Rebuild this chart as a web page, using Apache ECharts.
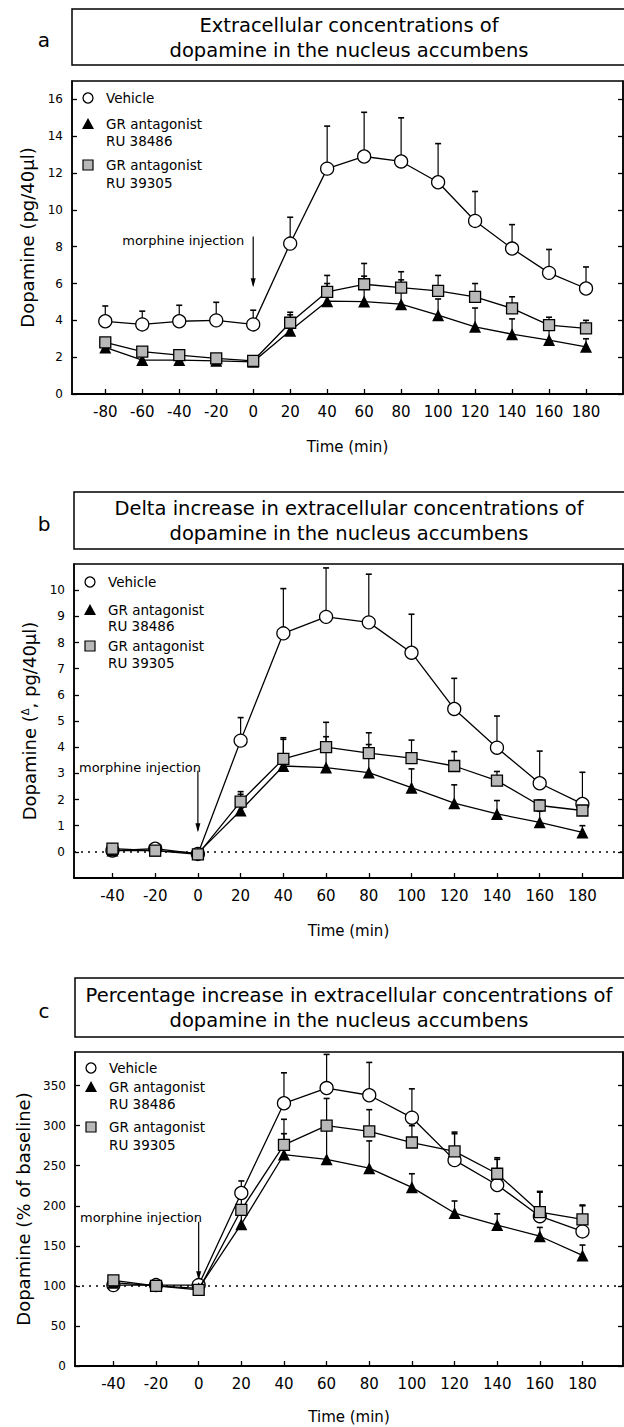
<!DOCTYPE html>
<html><head><meta charset="utf-8">
<script src="https://cdn.jsdelivr.net/npm/echarts@6/dist/echarts.min.js"></script>
<style>html,body{margin:0;padding:0;background:#fff}#c{width:624px;height:1427px}</style>
</head><body><div id="c"></div>
<script>
// ---------- data ----------
const timesA = [-80,-60,-40,-20,0,20,40,60,80,100,120,140,160,180];
const timesBC = [-40,-20,0,20,40,60,80,100,120,140,160,180];
const seriesNames = ['Vehicle', 'GR antagonist RU 38486', 'GR antagonist RU 39305'];

// panel a : Dopamine (pg/40µl)
const aVehicle    = [3.95,3.78,3.95,4.0,3.78,8.17,12.24,12.9,12.63,11.5,9.4,7.9,6.58,5.73];
const aVehicleTop = [4.78,4.5,4.82,4.98,4.55,9.6,14.55,15.3,15.0,13.6,11.0,9.2,7.85,6.9];
const aRU38486    = [2.53,1.84,1.84,1.8,1.75,3.43,5.04,5.02,4.88,4.28,3.65,3.25,2.93,2.56];
const aRU38486Top = [null,null,null,null,null,4.3,6.0,6.4,6.2,5.16,4.67,4.08,3.6,3.0];
const aRU39305    = [2.8,2.3,2.11,1.93,1.8,3.87,5.55,5.96,5.78,5.6,5.28,4.65,3.74,3.56];
const aRU39305Top = [null,2.4,null,null,null,4.44,6.44,7.09,6.64,6.44,6.0,5.28,4.17,4.0];

// panel b : Delta increase
const bVehicle    = [0.05,0.12,-0.08,4.25,8.35,8.98,8.77,7.61,5.46,3.98,2.62,1.83];
const bVehicleTop = [null,null,null,5.13,10.06,10.85,10.61,9.08,6.63,5.19,3.85,3.04];
const bRU38486    = [0.05,0.05,-0.05,1.58,3.28,3.22,3.03,2.45,1.86,1.45,1.13,0.74];
const bRU38486Top = [null,null,null,2.2,4.3,4.4,4.1,3.17,2.56,1.96,1.55,1.0];
const bRU39305    = [0.12,0.05,-0.1,1.92,3.55,4.0,3.77,3.58,3.28,2.72,1.77,1.58];
const bRU39305Top = [null,null,null,2.3,4.36,4.95,4.55,4.27,3.83,3.07,1.98,1.8];

// panel c : Percentage of baseline
const cVehicle    = [101,101,101,216,328,347,338,310,257,226,187,168];
const cVehicleTop = [null,null,null,231,366,389,379,346,290,258,217,200];
const cRU38486    = [104,100,97,177,264,258,247,223,191,176,162,138];
const cRU38486Top = [null,null,null,195,290,297,281,240,206,190,173,151];
const cRU39305    = [107,100,95,195,276,300,293,279,268,240,192,183];
const cRU39305Top = [null,null,null,212,308,334,320,300,292,260,218,201];

// tick labels
const xTicksA = [-80,-60,-40,-20,0,20,40,60,80,100,120,140,160,180];
const xTicksBC = [-40,-20,0,20,40,60,80,100,120,140,160,180];
const yTicksA = [0,2,4,6,8,10,12,14,16];
const yTicksB = [0,1,2,3,4,5,6,7,8,9,10];
const yTicksC = [0,50,100,150,200,250,300,350];

const titlesA = ['Extracellular concentrations of', 'dopamine in the nucleus accumbens'];
const titlesB = ['Delta increase in extracellular concentrations of', 'dopamine in the nucleus accumbens'];
const titlesC = ['Percentage increase in extracellular concentrations of', 'dopamine in the nucleus accumbens'];

// ---------- layout ----------
const FF = 'DejaVu Sans';
const panels = [
  { letter:'a', titles:titlesA, box:{y:9,h:56}, grid:{left:72, top:81, height:313},
    times:timesA, means:[aVehicle,aRU38486,aRU39305], tops:[aVehicleTop,aRU38486Top,aRU39305Top],
    xMin:-98, xMax:200, yMin:0, yMax:17, xTicks:xTicksA, yTicks:yTicksA,
    yName:'Dopamine (pg/40µl)', legendY:[17,43,60,84,102], refLine:null,
    arrow:{from:8.55,to:5.8}, label:{align:'right', y:8.35} },
  { letter:'b', titles:titlesB, box:{y:492,h:57}, grid:{left:74, top:564, height:314},
    times:timesBC, means:[bVehicle,bRU38486,bRU39305], tops:[bVehicleTop,bRU38486Top,bRU39305Top],
    xMin:-58, xMax:199, yMin:-1, yMax:11, xTicks:xTicksBC, yTicks:yTicksB,
    yName:'Dopamine ({d|Δ}, pg/40µl)', legendY:[18,46,62,82,99], refLine:0,
    arrow:{from:3.1,to:0.75}, label:{align:'left', y:3.22} },
  { letter:'c', titles:titlesC, box:{y:978,h:59}, grid:{left:75, top:1052, height:314},
    times:timesBC, means:[cVehicle,cRU38486,cRU39305], tops:[cVehicleTop,cRU38486Top,cRU39305Top],
    xMin:-58, xMax:199, yMin:0, yMax:392, xTicks:xTicksBC, yTicks:yTicksC,
    yName:'Dopamine (% of baseline)', legendY:[16,35,52,75,93], refLine:100,
    arrow:{from:180,to:107}, label:{align:'left', y:186} }
];

const symbols = ['circle','triangle','rect'];
const fills = ['#ffffff','#000000','#b8b8b8'];
const sizes = [13,12,11];

const chart = echarts.init(document.getElementById('c'), null, {renderer:'svg', width:624, height:1427});

const grids = [], xAxes = [], yAxes = [], series = [];
panels.forEach((p, i) => {
  grids.push({left:p.grid.left, right:1, top:p.grid.top, height:p.grid.height,
    show:true, borderColor:'#000', borderWidth:1.5, backgroundColor:'transparent'});
  xAxes.push({type:'value', gridIndex:i, min:p.xMin, max:p.xMax,
    axisLine:{show:true, onZero:false, lineStyle:{color:'#000', width:2}},
    axisTick:{show:true, inside:true, length:5, customValues:p.xTicks, lineStyle:{color:'#000', width:1.3}},
    axisLabel:{customValues:p.xTicks, color:'#000', fontSize:15, fontFamily:FF, margin:10},
    splitLine:{show:false},
    name:'Time (min)', nameLocation:'middle', nameGap: i===2 ? 43 : 45,
    nameTextStyle:{color:'#000', fontSize:15, fontFamily:FF}});
  yAxes.push({type:'value', gridIndex:i, min:p.yMin, max:p.yMax, position:'left',
    axisLine:{show:true, onZero:false, lineStyle:{color:'#000', width:1.5}},
    axisTick:{show:true, inside:true, length:5, customValues:p.yTicks, lineStyle:{color:'#000', width:1.3}},
    axisLabel:{customValues:p.yTicks, color:'#000', fontSize:12, fontFamily:FF, margin:9},
    splitLine:{show:false},
    name:p.yName, nameLocation:'middle', nameGap:34,
    nameTextStyle:{color:'#000', fontSize:18, fontFamily:FF,
      rich:{d:{fontSize:10, fontFamily:FF, color:'#000', padding:[0,0,8,0]}}}});
  yAxes.push({type:'value', gridIndex:i, min:p.yMin, max:p.yMax, position:'right',
    axisLine:{show:true, onZero:false, lineStyle:{color:'#000', width:1.5}},
    axisTick:{show:true, inside:true, length:5, customValues:p.yTicks, lineStyle:{color:'#000', width:1.3}},
    axisLabel:{show:false}, splitLine:{show:false}});

  p.means.forEach((m, g) => {
    const errData = p.times.map((t, k) => [t, m[k], p.tops[g][k] == null ? NaN : p.tops[g][k]]);
    series.push({type:'custom', name:seriesNames[g], xAxisIndex:i, yAxisIndex:2*i, z:1, silent:true,
      data:errData,
      renderItem:(params, api) => {
        const top = api.value(2);
        if (isNaN(top)) return null;
        const a = api.coord([api.value(0), api.value(1)]);
        const b = api.coord([api.value(0), top]);
        return {type:'group', children:[
          {type:'line', shape:{x1:a[0], y1:a[1], x2:b[0], y2:b[1]}, style:{stroke:'#000', lineWidth:1.2}},
          {type:'line', shape:{x1:b[0]-3, y1:b[1], x2:b[0]+3, y2:b[1]}, style:{stroke:'#000', lineWidth:1.6}}
        ]};
      }});
  });
  p.means.forEach((m, g) => {
    const s = {type:'line', name:seriesNames[g], xAxisIndex:i, yAxisIndex:2*i, z:3+g,
      data:p.times.map((t, k) => [t, m[k]]),
      symbol:symbols[g], symbolSize:sizes[g], showSymbol:true,
      lineStyle:{color:'#000', width:1.3},
      itemStyle:{color:fills[g], borderColor:'#000', borderWidth: g===1 ? 0 : 1.3},
      animation:false};
    if (g === 0 && p.refLine !== null) {
      s.markLine = {silent:true, symbol:['none','none'], label:{show:false},
        lineStyle:{type:[2,5], color:'#000', width:1.5}, data:[{yAxis:p.refLine}], animation:false};
    }
    series.push(s);
  });
});

chart.setOption({animation:false, grid:grids, xAxis:xAxes, yAxis:yAxes, series:series});

// ---------- graphics: title boxes, legends, annotations ----------
const gfx = [];
panels.forEach((p, i) => {
  const gl = p.grid.left;
  gfx.push({type:'text', style:{text:p.letter, x:44, y:p.box.y + p.box.h/2 + 3, align:'center', verticalAlign:'middle',
    fontSize:20, fontFamily:FF, fill:'#000'}});
  gfx.push({type:'rect', shape:{x:gl, y:p.box.y, width:624 - gl + 10, height:p.box.h},
    style:{fill:'none', stroke:'#000', lineWidth:1.5}});
  p.titles.forEach((t, k) => {
    gfx.push({type:'text', style:{text:t, x:349, y:p.box.y + p.box.h/2 - 12 + k*25, align:'center', verticalAlign:'middle',
      fontSize:19.5, fontFamily:FF, fill:'#000'}});
  });
  // legend
  const lx = gl + 16, tx = gl + 34, top = p.grid.top;
  const ly = p.legendY.map(v => top + v);
  gfx.push({type:'circle', shape:{cx:lx, cy:ly[0], r:5}, style:{fill:'#fff', stroke:'#000', lineWidth:1.3}});
  gfx.push({type:'polygon', shape:{points:[[lx, ly[1]-6],[lx-6, ly[1]+5],[lx+6, ly[1]+5]]}, style:{fill:'#000'}});
  gfx.push({type:'rect', shape:{x:lx-5, y:ly[3]-5, width:10, height:10}, style:{fill:'#b8b8b8', stroke:'#000', lineWidth:1.2}});
  const legTexts = [['Vehicle', ly[0]], ['GR antagonist', ly[1]], ['RU 38486', ly[2]], ['GR antagonist', ly[3]], ['RU 39305', ly[4]]];
  legTexts.forEach(([t, y]) => gfx.push({type:'text', style:{text:t, x:tx, y:y, align:'left', verticalAlign:'middle',
    fontSize:13.5, fontFamily:FF, fill:'#000'}}));
  // morphine injection arrow
  const a0 = chart.convertToPixel({gridIndex:i}, [0, p.arrow.from]);
  const a1 = chart.convertToPixel({gridIndex:i}, [0, p.arrow.to]);
  gfx.push({type:'line', shape:{x1:a0[0], y1:a0[1], x2:a1[0], y2:a1[1]-2}, style:{stroke:'#000', lineWidth:1.2}});
  gfx.push({type:'polygon', shape:{points:[[a1[0], a1[1]],[a1[0]-2.5, a1[1]-9],[a1[0]+2.5, a1[1]-9]]}, style:{fill:'#000'}});
  const lp = chart.convertToPixel({gridIndex:i}, [0, p.label.y]);
  const lxPix = p.label.align === 'right' ? lp[0] - 9 : gl + 5;
  gfx.push({type:'text', style:{text:'morphine injection', x:lxPix, y:lp[1], align:p.label.align, verticalAlign:'middle',
    fontSize:13, fontFamily:FF, fill:'#000'}});
});
chart.setOption({graphic:gfx});
</script>
</body></html>
